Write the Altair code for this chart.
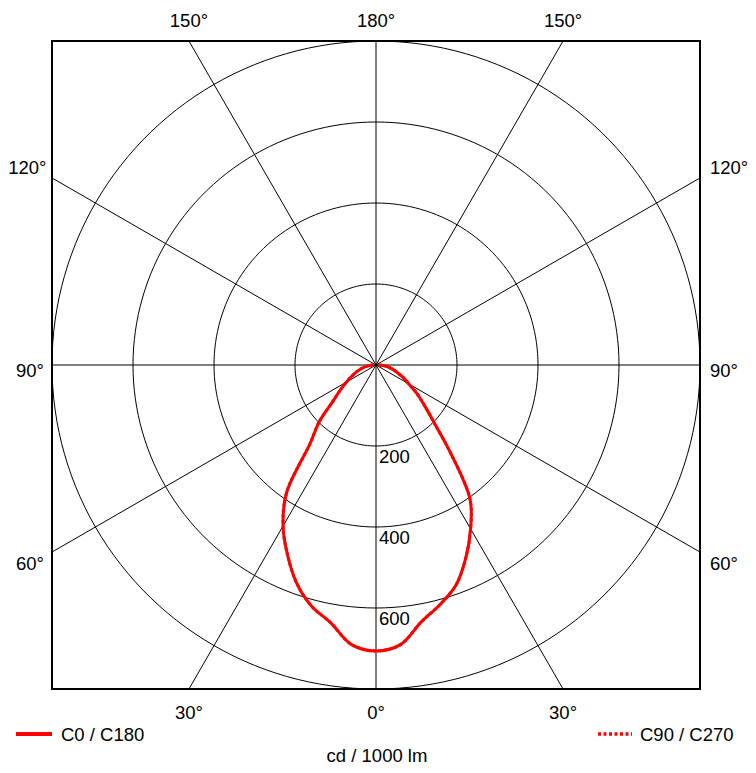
import math
import pandas as pd
import altair as alt

# ---------------- data ----------------
gamma = [0, 5, 10, 15, 20, 25, 30, 35, 40, 45, 50, 55, 60, 65, 70, 75, 80, 85, 90]
c0   = [706, 693, 644, 612, 578, 525, 467, 405, 291, 205, 157, 124, 93, 75, 57, 44, 32, 20, 6]
c180 = [706, 693, 646, 616, 573, 517, 459, 385, 253, 198, 138, 108, 84, 66, 52, 40, 29, 17, 6]
c90  = [706, 693, 644, 612, 578, 525, 467, 405, 291, 205, 157, 124, 93, 75, 57, 44, 32, 20, 6]
c270 = [706, 693, 646, 616, 573, 517, 459, 385, 253, 198, 138, 108, 84, 66, 52, 40, 29, 17, 6]
series_names = ["C0 / C180", "C90 / C270"]

rings = [200, 400, 600, 800]
ring_labels = [200, 400, 600]
spokes = [0, 30, 60, 90, 120, 150]
bottom_labels = ["30°", "0°", "30°"]
bottom_angles = [-30, 0, 30]
top_labels = ["150°", "180°", "150°"]
top_angles = [-150, 180, 150]
side_labels = ["120°", "90°", "60°"]
side_angles = [120, 90, 60]
unit_title = "cd / 1000 lm"

RMAX = 800
FONT = "Liberation Sans"
FS = 18.5

xs = alt.Scale(domain=[-RMAX, RMAX], nice=False, zero=False)
ys = alt.Scale(domain=[-RMAX, RMAX], nice=False, zero=False)


def X(f="x"):
    return alt.X(f + ":Q", scale=xs, axis=None)


def Y(f="y"):
    return alt.Y(f + ":Q", scale=ys, axis=None)


# ---------------- curve table ----------------
rows = []
for name, right, left in [(series_names[0], c0, c180), (series_names[1], c90, c270)]:
    for g, v in zip(gamma, right):
        rows.append({"series": name, "gamma": g, "cd": v, "side": 1})
    for g, v in zip(gamma, left):
        if g > 0:
            rows.append({"series": name, "gamma": g, "cd": v, "side": -1})
curve_df = pd.DataFrame(rows)

curve_base = alt.Chart(curve_df).transform_calculate(
    rad="datum.gamma * PI / 180",
).transform_calculate(
    x="datum.side * datum.cd * sin(datum.rad)",
    y="-datum.cd * cos(datum.rad)",
    ord="datum.side * datum.gamma",
)

curve_dot = curve_base.transform_filter(
    alt.datum.series == series_names[1]
).mark_line(color="#ff0000", strokeWidth=3, strokeDash=[3, 2.5],
            interpolate="catmull-rom", clip=True).encode(
    x=X(), y=Y(), order="ord:Q")

curve_solid = curve_base.transform_filter(
    alt.datum.series == series_names[0]
).mark_line(color="#ff0000", strokeWidth=3,
            interpolate="catmull-rom", clip=True).encode(
    x=X(), y=Y(), order="ord:Q")

# ---------------- rings ----------------
ring_rows = [{"r": r, "t": t} for r in rings for t in range(0, 361, 2)]
ring_layer = alt.Chart(pd.DataFrame(ring_rows)).transform_calculate(
    x="datum.r * sin(datum.t * PI / 180)",
    y="datum.r * cos(datum.t * PI / 180)",
).mark_line(color="black", strokeWidth=1, clip=True).encode(
    x=X(), y=Y(), detail="r:N", order="t:Q")

# ---------------- spokes ----------------
spoke_layer = alt.Chart(pd.DataFrame({"a": spokes})).transform_calculate(
    x="1500 * sin(datum.a * PI / 180)",
    y="-1500 * cos(datum.a * PI / 180)",
    x2="-1500 * sin(datum.a * PI / 180)",
    y2="1500 * cos(datum.a * PI / 180)",
).mark_rule(color="black", strokeWidth=1, clip=True).encode(
    x=X(), y=Y(), x2="x2:Q", y2="y2:Q")

# ---------------- ring labels ----------------
ring_lab = alt.Chart(pd.DataFrame({"v": ring_labels})).transform_calculate(
    x="0", y="-datum.v", t="format(datum.v, 'd')"
).mark_text(align="left", baseline="alphabetic", dx=3, dy=17,
            fontSize=FS, font=FONT, color="black").encode(
    x=X(), y=Y(), text="t:N")


# ---------------- angle labels ----------------
def text_layer(df, align, dx, dy):
    return alt.Chart(df).mark_text(
        align=align, baseline="alphabetic", dx=dx, dy=dy,
        fontSize=FS, font=FONT, color="black").encode(
        x=X(), y=Y(), text="t:N")


bot_df = pd.DataFrame({
    "t": bottom_labels,
    "x": [RMAX * math.tan(math.radians(a)) for a in bottom_angles],
    "y": [-RMAX] * 3,
})
top_df = pd.DataFrame({
    "t": top_labels,
    "x": [RMAX * math.tan(math.radians(180 - abs(a))) * (1 if a > 0 else -1) for a in top_angles],
    "y": [RMAX] * 3,
})


def side_df(sign, idx):
    a = side_angles[idx]
    return pd.DataFrame({
        "t": [side_labels[idx]],
        "x": [sign * RMAX],
        "y": [-RMAX / math.tan(math.radians(a)) if a != 90 else 0.0],
    })


label_layers = [
    text_layer(bot_df, "center", 0, 29.5),
    text_layer(top_df, "center", 0, -14),
    text_layer(side_df(-1, 0), "right", -5.5, -4),
    text_layer(side_df(-1, 1), "right", -8, 11.5),
    text_layer(side_df(-1, 2), "right", -8, 18),
    text_layer(side_df(1, 0), "left", 10, -4),
    text_layer(side_df(1, 1), "left", 10, 11.5),
    text_layer(side_df(1, 2), "left", 10, 18),
]

# ---------------- legend & unit title ----------------
leg1 = pd.DataFrame({"name": [series_names[0]]})
leg2 = pd.DataFrame({"name": [series_names[1]]})

leg_line1 = alt.Chart(leg1).mark_rule(color="#ff0000", strokeWidth=4).encode(
    x=alt.value(-36), x2=alt.value(0), y=alt.value(693))
leg_text1 = alt.Chart(leg1).mark_text(
    align="left", baseline="alphabetic", fontSize=FS, font=FONT, color="black"
).encode(x=alt.value(9), y=alt.value(700), text="name:N")

leg_line2 = alt.Chart(leg2).mark_rule(color="#ff0000", strokeWidth=3.5,
                                      strokeDash=[3, 2.5]).encode(
    x=alt.value(546), x2=alt.value(580), y=alt.value(693))
leg_text2 = alt.Chart(leg2).mark_text(
    align="left", baseline="alphabetic", fontSize=FS, font=FONT, color="black"
).encode(x=alt.value(588), y=alt.value(700), text="name:N")

unit_lab = alt.Chart(pd.DataFrame({"u": [unit_title]})).mark_text(
    align="center", baseline="alphabetic", fontSize=FS, font=FONT, color="black"
).encode(x=alt.value(325), y=alt.value(721), text="u:N")

chart = alt.layer(
    ring_layer, spoke_layer, ring_lab, curve_dot, curve_solid,
    *label_layers,
    leg_line1, leg_text1, leg_line2, leg_text2, unit_lab,
).properties(
    width=648, height=648,
    autosize=alt.AutoSizeParams(type="none"),
    padding={"left": 44, "top": 33, "right": 48, "bottom": 76},
    background="white",
).configure_view(stroke="black", strokeWidth=2)

chart.save("out.html", embed_options={"renderer": "svg", "actions": False})
